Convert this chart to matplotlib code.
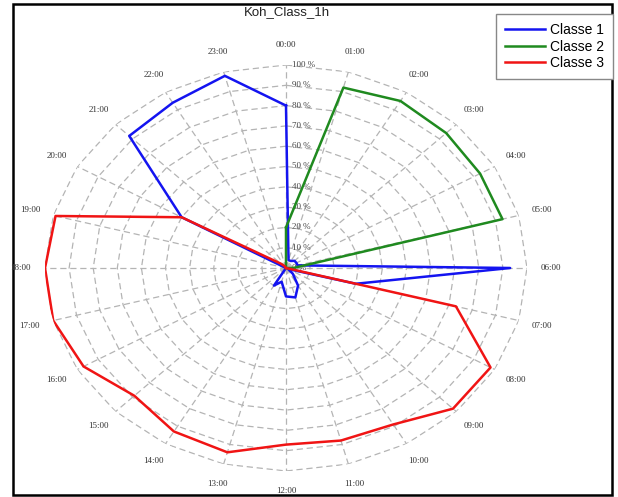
import matplotlib
matplotlib.use('Agg')
import matplotlib.pyplot as plt
import numpy as np
from matplotlib.patches import Rectangle

# hourly values in % (00:00 .. 23:00)
hours = [f'{h:02d}:00' for h in range(24)]
classe_1 = [80, 4, 4, 5, 5, 5, 93, 30, 1, 4, 10, 15, 14, 7, 10, 0, 0, 0, 0, 0, 50, 92, 94, 98]
classe_2 = [20, 92, 95, 94, 93, 93, 3, 0, 0, 0, 0, 0, 0, 0, 0, 0, 0, 0, 0, 0, 0, 0, 0, 0]
classe_3 = [0, 0, 0, 0, 0, 0, 0, 73, 98, 98, 89, 88, 87, 94, 93, 89, 97, 100, 100, 99, 50, 3, 1, 0]
series_names = ['Classe 1', 'Classe 2', 'Classe 3']
series_colors = ['#1414f0', '#1f8a1f', '#f01414']
levels = list(range(10, 101, 10))

W, H = 618, 497
GRID_COLOR = '#b4b4b4'
SERIF = 'Liberation Serif'
SANS = 'Liberation Sans'


def closed(values):
    return list(values) + [values[0]]


def draw_grid(ax, angles):
    ring_angles = closed(list(angles))
    for lv in levels:
        ax.plot(ring_angles, [lv] * len(ring_angles), color=GRID_COLOR,
                lw=0.9, ls=(0, (5, 3)), zorder=1)
    for a in angles:
        ax.plot([a, a], [0, 100], color=GRID_COLOR, lw=0.9, ls=(0, (5, 3)), zorder=1)


def draw_labels(ax, angles):
    for a, name in zip(angles, hours):
        ax.text(a, 110, name, ha='center', va='center', fontsize=6.5,
                family=SERIF, color='#333333')
    for lv in [0] + levels:
        ax.annotate(f'{lv} %', xy=(0, lv), xytext=(4, 0), textcoords='offset points',
                    ha='left', va='center', fontsize=6.5, family=SERIF, color='#444444')


fig = plt.figure(figsize=(W / 100, H / 100), dpi=100)
fig.patch.set_facecolor('white')

# center (286, 268), radii 241 x 203 px -> elliptic polar axes
ax = fig.add_axes([45 / W, 1 - 471 / H, 482 / W, 406 / H], projection='polar')
ax.set_aspect('auto')
ax.set_theta_zero_location('N')
ax.set_theta_direction(-1)
ax.set_ylim(0, 100)
ax.grid(False)
ax.set_xticks([])
ax.set_yticks([])
ax.spines['polar'].set_visible(False)
ax.patch.set_alpha(0)

angles = np.deg2rad(np.arange(24) * 15)
draw_grid(ax, angles)
draw_labels(ax, angles)

for values, name, color in zip([classe_1, classe_2, classe_3], series_names, series_colors):
    ax.plot(closed(list(angles)), closed(values), color=color, lw=1.8, label=name, zorder=3)

fig.text(287 / W, 1 - 12 / H, 'Koh_Class_1h', ha='center', va='center',
         fontsize=9.5, family=SANS, color='#222222')

handles, labels = ax.get_legend_handles_labels()
leg = fig.legend(handles, labels, loc='upper right', bbox_to_anchor=(613 / W, 1 - 14 / H),
                 borderaxespad=0, fancybox=False, framealpha=1, edgecolor='#888888',
                 prop={'family': SANS, 'size': 10}, handlelength=2.9,
                 handletextpad=0.35, labelspacing=0.18, borderpad=0.65)
leg.get_frame().set_linewidth(1.0)

fig.add_artist(Rectangle((13 / W, 1 - 495 / H), 599 / W, 491 / H, transform=fig.transFigure,
                         fill=False, lw=1.8, ec='black', zorder=0))

fig.savefig('out.png', dpi=100)
